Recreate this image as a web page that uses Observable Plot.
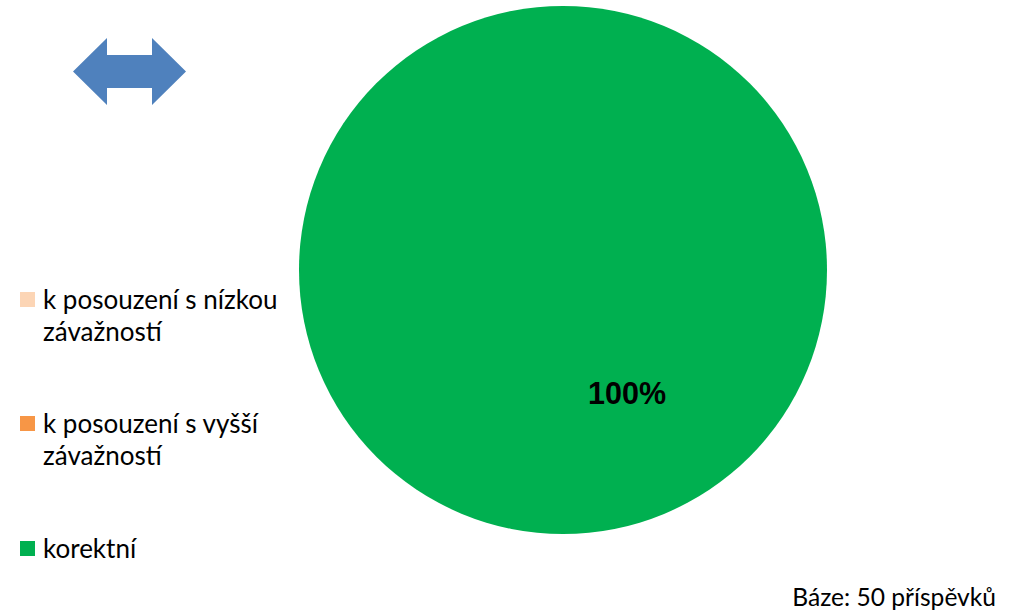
<!DOCTYPE html>
<html>
<head>
<meta charset="utf-8">
<script src="https://cdn.jsdelivr.net/npm/d3@7"></script>
<script src="https://cdn.jsdelivr.net/npm/@observablehq/plot@0.6"></script>
<style>
  html, body { margin: 0; padding: 0; background: #fff; }
  #wrap { position: relative; width: 1012px; height: 610px; overflow: hidden; font-family: Lato, "Open Sans", sans-serif; }
  #chart { position: absolute; left: 0; top: 0; }
  .leg { position: absolute; left: 20px; font-size: 26px; line-height: 32px; color: #000; white-space: nowrap; }
  .leg .sw { position: absolute; left: 0; top: 9px; width: 15px; height: 15px; }
  .leg .tx { margin-left: 23px; display: block; }
  #arrow { position: absolute; left: 73px; top: 38px; }
  #base { position: absolute; right: 16px; top: 583px; font-size: 24.6px; line-height: 28px; color: #000; white-space: nowrap; }
</style>
</head>
<body>
<div id="wrap">
  <svg id="arrow" width="113" height="67" viewBox="0 0 113 67">
    <polygon points="0,33.5 34,0 34,17 79,17 79,0 113,33.5 79,67 79,50 34,50 34,67" fill="#4f81bd"/>
  </svg>
  <div id="chart"></div>
  <div id="legend"></div>
  <div id="base">Báze: 50 příspěvků</div>
</div>
<script>
const categories = ["k posouzení s nízkou závažností", "k posouzení s vyšší závažností", "korektní"];
const legendLines = [["k posouzení s nízkou", "závažností"], ["k posouzení s vyšší", "závažností"], ["korektní"]];
const counts = [0, 0, 50];
const shares = [0, 0, 100];
const colors = ["#fcd5b5", "#f79646", "#00b050"];

const data = categories.map((c, i) => ({category: c, count: counts[i], share: shares[i]}));
const color = Plot.scale({color: {type: "ordinal", domain: categories, range: colors}});

const W = 1012, H = 540, R = 264;
const pieMark = (index, scales, values, dims) => {
  const cx = dims.marginLeft + (dims.width - dims.marginLeft - dims.marginRight) / 2;
  const cy = dims.marginTop + (dims.height - dims.marginTop - dims.marginBottom) / 2;
  const arcs = d3.pie().sort(null).value(d => d.count)(data);
  const arc = d3.arc().innerRadius(0).outerRadius(R);
  const g = d3.create("svg:g").attr("transform", `translate(${cx},${cy})`);
  g.selectAll("path").data(arcs.filter(a => a.data.count > 0)).join("path")
    .attr("d", arc).attr("fill", a => color.apply(a.data.category));
  const lab = d3.arc().innerRadius(R * 0.5).outerRadius(R * 0.5);
  g.selectAll("text").data(arcs.filter(a => a.data.share > 0)).join("text")
    .attr("transform", a => { const [x, y] = lab.centroid(a); return `translate(${x + 64},${y - 6})`; })
    .attr("text-anchor", "middle").attr("dominant-baseline", "middle")
    .style("font-family", "'Liberation Sans', Arial, sans-serif").style("font-weight", "bold").style("font-size", "30.5px")
    .attr("fill", "#000")
    .text(a => a.data.share + "%");
  return g.node();
};

const plot = Plot.plot({
  width: W, height: H,
  marginLeft: 114, marginRight: 0, marginTop: 0, marginBottom: 0,
  x: {axis: null}, y: {axis: null},
  marks: [pieMark]
});
document.getElementById("chart").appendChild(plot);

const tops = [283, 407, 532];
const leg = document.getElementById("legend");
categories.forEach((c, i) => {
  const d = document.createElement("div");
  d.className = "leg";
  d.style.top = tops[i] + "px";
  const sw = document.createElement("span");
  sw.className = "sw";
  sw.style.background = color.apply(c);
  d.appendChild(sw);
  legendLines[i].forEach(t => {
    const s = document.createElement("span");
    s.className = "tx";
    s.textContent = t;
    d.appendChild(s);
  });
  leg.appendChild(d);
});
</script>
</body>
</html>
